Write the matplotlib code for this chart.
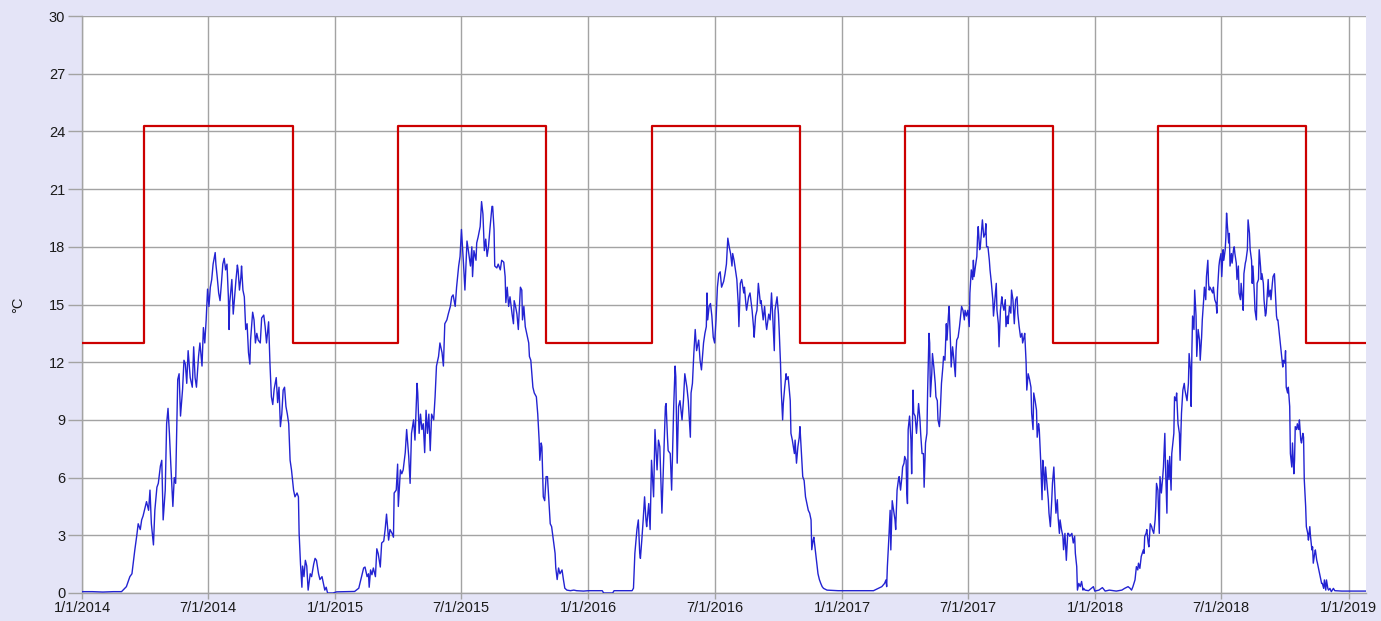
import numpy as np
import matplotlib
matplotlib.use("Agg")
import matplotlib.pyplot as plt

# ---------------- data (day offsets from Jan 1 of each year, values in °C) ----------------
d2014 = [0, 15, 30, 45,
         57, 64, 69, 72, 74, 76, 79, 81, 84, 86,
         88, 93, 96, 98, 100, 103, 105, 108, 110, 113,
         115, 117, 120, 122, 124, 126, 128, 131, 133, 135,
         138, 140, 142, 145, 147, 149, 151, 153, 156, 159,
         161, 163, 165, 168, 170, 173, 175, 177, 179, 181,
         183, 185, 187, 189, 192, 193, 195, 197, 199, 201,
         203, 205, 207, 209, 211, 212, 213, 216, 218, 220,
         222, 224, 225, 227, 229, 230, 232, 234, 236, 238,
         240, 242, 243, 246, 248, 250, 252, 254, 257, 259,
         262, 264, 266, 269, 271, 273, 275, 277, 280, 282,
         284, 286, 288, 290, 292, 294, 296, 298, 300, 302,
         305, 307, 310, 312, 313, 315, 317, 318, 320, 322,
         324, 326, 329, 331, 334, 336, 338, 341, 343, 346,
         348, 350, 352, 354, 362]
v2014 = [0.07, 0.07, 0.05, 0.07,
         0.07, 0.33, 0.85, 1.0, 1.6, 2.2, 3.0, 3.6, 3.3, 3.8,
         4.0, 4.75, 4.3, 5.35, 3.6, 2.5, 4.3, 5.5, 5.7, 6.6,
         6.9, 3.8, 5.35, 8.8, 9.6, 8.3, 6.7, 4.5, 6.0, 5.7,
         11.1, 11.4, 9.2, 10.6, 12.1, 11.9, 10.9, 12.6, 11.2, 10.7,
         12.8, 11.2, 10.7, 12.3, 13.0, 11.8, 13.8, 13.0, 14.2, 15.8,
         14.9, 15.9, 16.3, 17.1, 17.7, 17.1, 16.4, 15.6, 15.2, 16.1,
         17.1, 17.4, 16.8, 17.1, 15.4, 13.7, 15.1, 16.3, 14.5, 15.4,
         16.3, 17.05, 16.8, 15.75, 16.4, 17.0, 15.75, 15.4, 13.7, 14.0,
         12.5, 11.9, 13.15, 14.6, 14.2, 13.0, 13.5, 13.15, 13.0, 14.3,
         14.45, 13.85, 13.0, 14.1, 11.9, 10.2, 9.8, 10.6, 11.2, 9.9,
         10.7, 8.65, 9.3, 10.55, 10.7, 9.7, 9.3, 8.8, 6.9, 6.4,
         5.35, 5.0, 5.2, 5.0, 3.1, 1.5, 0.3, 1.4, 0.85, 1.7,
         1.4, 0.15, 1.0, 0.85, 1.5, 1.8, 1.7, 1.0, 0.7, 0.85,
         0.5, 0.15, 0.3, 0.0, 0.0]

d2015 = [2, 15, 28, 34, 38, 41, 43, 46, 48, 49,
         51, 53, 55, 58, 60, 62, 65, 67, 70, 72,
         74, 77, 79, 82, 84, 85, 88, 90, 91, 94,
         96, 98, 101, 103, 106, 108, 110, 113, 115, 118,
         119, 121, 123, 125, 127, 129, 131, 133, 135, 137,
         139, 142, 144, 146, 149, 151, 154, 156, 158, 161,
         163, 166, 168, 170, 173, 175, 178, 180, 182, 185,
         187, 190, 192, 195, 197, 198, 200, 203, 204, 206,
         209, 211, 213, 215, 217, 219, 221, 223, 226, 227,
         229, 230, 233, 235, 238, 240, 243, 245, 246, 248,
         250, 252, 255, 257, 258, 260, 262, 264, 267, 269,
         270, 272, 274, 276, 279, 280, 282, 285, 287, 290,
         292, 294, 295, 297, 298, 300, 302, 304, 306, 308,
         310, 312, 315, 317, 318, 320, 322, 324, 327, 329,
         331, 334, 339, 344, 348, 358]
v2015 = [0.06, 0.07, 0.08, 0.25, 0.85, 1.3, 1.35, 0.85, 1.0, 0.3,
         1.2, 0.95, 1.3, 0.85, 2.3, 2.05, 1.35, 2.6, 2.7, 3.3,
         4.1, 2.75, 3.3, 3.1, 2.9, 5.2, 5.35, 6.7, 4.5, 6.4,
         6.2, 6.4, 7.3, 8.5, 7.1, 5.7, 8.3, 9.0, 7.95, 10.9,
         10.4, 8.3, 9.3, 8.5, 8.8, 7.3, 9.5, 8.3, 9.3, 7.4,
         9.3, 9.0, 10.2, 11.8, 12.3, 13.0, 12.5, 11.8, 14.0, 14.2,
         14.5, 14.9, 15.4, 15.5, 14.9, 15.9, 17.0, 17.5, 18.9, 17.1,
         15.75, 18.3, 17.8, 17.0, 18.0, 16.45, 17.8, 17.3, 18.2, 18.5,
         19.05, 20.35, 19.7, 17.8, 18.4, 17.5, 18.0, 18.9, 20.1, 20.1,
         18.9, 17.0, 16.9, 17.1, 16.8, 17.3, 17.2, 16.45, 15.1, 15.9,
         14.9, 15.4, 14.5, 14.0, 15.2, 14.9, 14.5, 13.7, 15.9, 15.75,
         14.2, 14.9, 13.85, 13.5, 13.0, 12.3, 12.1, 10.7, 10.4, 10.2,
         9.3, 7.95, 6.9, 7.8, 7.6, 5.0, 4.8, 6.05, 6.05, 4.8,
         3.6, 3.45, 2.6, 2.06, 1.3, 0.7, 1.3, 1.0, 1.2, 0.7,
         0.25, 0.15, 0.12, 0.15, 0.12, 0.1]

d2016 = [0, 10, 20, 22, 35, 37, 50, 63, 65, 67,
         70, 72, 74, 75, 77, 79, 81, 83, 84, 87,
         89, 91, 94, 96, 99, 101, 103, 106, 108, 111,
         112, 114, 115, 118, 120, 123, 125, 126, 128, 130,
         132, 135, 137, 139, 142, 144, 147, 148, 150, 152,
         154, 156, 159, 161, 163, 166, 168, 170, 171, 172,
         174, 176, 178, 180, 182, 184, 186, 188, 190, 192,
         195, 197, 199, 201, 203, 205, 207, 208, 210, 212,
         214, 216, 217, 219, 221, 224, 225, 227, 228, 231,
         233, 236, 238, 239, 241, 243, 245, 248, 249, 251,
         252, 254, 256, 257, 260, 262, 264, 266, 268, 269,
         272, 274, 275, 277, 278, 280, 281, 283, 285, 286,
         288, 291, 292, 294, 297, 298, 300, 302, 304, 305,
         307, 309, 311, 313, 315, 317, 319, 321, 322, 324,
         325, 327, 329, 331, 333, 335, 337, 339, 344, 360]
v2016 = [0.12, 0.12, 0.12, 0.0, 0.0, 0.12, 0.12, 0.12, 0.25, 2.06,
         3.3, 3.8, 2.06, 1.8, 2.75, 3.8, 5.0, 3.8, 3.45, 4.65,
         3.3, 6.9, 5.0, 8.5, 6.4, 7.95, 7.6, 4.15, 6.4, 9.7,
         9.85, 8.1, 7.4, 7.25, 5.35, 9.7, 11.8, 11.25, 6.75, 9.7,
         10.0, 9.0, 10.0, 11.4, 10.7, 10.0, 8.1, 10.4, 10.9, 12.45,
         13.7, 12.6, 13.15, 12.1, 11.6, 13.0, 13.5, 13.85, 15.6, 14.2,
         14.9, 15.05, 14.4, 13.3, 13.0, 14.2, 15.9, 16.6, 16.7, 15.9,
         16.2, 16.6, 17.1, 18.45, 18.0, 17.65, 17.0, 17.65, 17.3, 16.8,
         16.3, 15.05, 13.85, 16.1, 16.3, 15.6, 15.9, 15.05, 14.7, 15.4,
         15.6, 14.7, 13.85, 13.3, 14.4, 14.7, 16.1, 15.05, 15.2, 14.5,
         14.2, 14.9, 14.0, 13.7, 14.5, 14.2, 15.6, 14.2, 12.6, 14.7,
         15.4, 14.5, 13.7, 11.9, 10.55, 9.0, 9.85, 10.7, 11.4, 11.1,
         11.25, 10.0, 8.3, 7.95, 7.25, 7.95, 6.75, 7.6, 8.1, 8.65,
         7.4, 6.05, 5.85, 5.0, 4.65, 4.3, 4.15, 3.8, 2.25, 2.75,
         2.9, 2.25, 1.55, 1.0, 0.7, 0.5, 0.33, 0.24, 0.15, 0.12]

d2017 = [0, 15, 30, 45, 52, 57, 61, 63, 64, 65,
         67, 69, 70, 72, 74, 76, 77, 79, 81, 82,
         84, 86, 87, 89, 90, 92, 93, 94, 95, 97,
         99, 100, 102, 103, 105, 107, 110, 112, 113, 115,
         117, 118, 120, 122, 123, 125, 126, 127, 129, 130,
         132, 134, 135, 137, 138, 140, 141, 143, 145, 146,
         148, 150, 151, 153, 154, 156, 157, 159, 161, 163,
         164, 165, 167, 169, 171, 172, 174, 176, 177, 179,
         181, 183, 184, 186, 188, 189, 190, 192, 194, 195,
         196, 198, 199, 201, 202, 204, 206, 207, 208, 210,
         212, 213, 215, 217, 218, 220, 222, 223, 225, 226,
         228, 230, 231, 233, 235, 236, 238, 239, 241, 243,
         244, 246, 248, 249, 250, 252, 253, 255, 257, 259,
         260, 262, 263, 265, 266, 268, 270, 272, 273, 275,
         276, 278, 280, 281, 283, 284, 286, 288, 289, 290,
         292, 293, 295, 297, 298, 300, 302, 303, 305, 307,
         308, 310, 311, 313, 314, 316, 318, 319, 321, 323,
         325, 326, 328, 331, 333, 335, 336, 338, 339, 341,
         343, 345, 347, 348, 350, 355, 362, 364]
v2017 = [0.12, 0.12, 0.12, 0.12, 0.24, 0.33, 0.5, 0.68, 0.33, 1.37,
         2.75, 4.3, 2.24, 4.8, 4.3, 3.8, 3.3, 5.35, 5.9, 6.05,
         5.35, 6.05, 6.55, 6.75, 7.1, 6.9, 5.2, 4.65, 8.5, 9.2,
         7.95, 6.2, 10.55, 9.35, 9.2, 8.3, 9.85, 9.0, 8.3, 7.25,
         7.25, 5.5, 7.8, 8.3, 10.4, 13.5, 13.0, 10.2, 11.4, 12.45,
         11.75, 10.9, 10.2, 10.0, 9.0, 8.65, 9.2, 10.9, 11.75, 12.3,
         12.1, 14.0, 13.15, 14.4, 14.9, 13.0, 11.75, 12.8, 12.1, 11.25,
         12.6, 13.15, 13.3, 13.85, 14.55, 14.9, 14.7, 14.2, 14.7, 14.4,
         14.7, 13.85, 15.6, 16.8, 16.3, 17.3, 16.45, 17.0, 17.5, 18.5,
         19.05, 17.85, 18.0, 18.9, 19.4, 18.5, 18.7, 19.2, 18.0, 18.0,
         17.3, 16.8, 16.1, 15.25, 14.4, 15.25, 16.1, 14.7, 14.0, 12.8,
         14.7, 15.4, 15.05, 14.7, 15.25, 13.85, 14.4, 14.0, 14.9, 14.55,
         15.75, 15.25, 14.0, 14.7, 15.25, 15.4, 14.55, 13.85, 13.3, 13.5,
         13.0, 13.3, 13.5, 12.0, 10.55, 11.4, 11.1, 10.7, 9.35, 8.5,
         10.4, 10.0, 9.5, 8.1, 8.8, 8.5, 6.9, 4.85, 6.9, 6.55,
         5.35, 6.55, 5.7, 4.85, 4.15, 3.45, 4.85, 5.7, 6.55, 4.85,
         4.15, 4.85, 4.0, 3.1, 3.8, 3.3, 2.95, 2.25, 3.1, 1.7,
         3.1, 3.1, 2.95, 3.1, 2.6, 2.95, 2.06, 1.37, 0.15, 0.5,
         0.33, 0.6, 0.15, 0.24, 0.15, 0.12, 0.33, 0.1]

d2018 = [5, 10, 14, 20, 30, 38, 42, 47, 50, 52,
         54, 57, 59, 61, 62, 64, 66, 69, 70, 71,
         73, 74, 76, 77, 79, 81, 82, 84, 86, 87,
         88, 90, 92, 93, 95, 97, 98, 100, 101, 103,
         104, 106, 107, 109, 110, 112, 113, 114, 116, 117,
         119, 121, 122, 124, 125, 126, 128, 129, 131, 132,
         134, 135, 137, 138, 139, 140, 142, 143, 145, 146,
         148, 150, 151, 153, 154, 156, 157, 159, 160, 162,
         163, 164, 165, 167, 169, 170, 172, 174, 175, 176,
         178, 179, 181, 182, 184, 185, 187, 188, 189, 190,
         192, 193, 194, 196, 197, 199, 200, 201, 203, 204,
         206, 207, 209, 210, 212, 213, 214, 216, 217, 219,
         220, 222, 223, 225, 226, 227, 229, 230, 232, 233,
         235, 236, 238, 239, 240, 242, 243, 245, 246, 248,
         249, 250, 252, 253, 255, 256, 258, 259, 261, 262,
         263, 266, 268, 270, 271, 273, 274, 275, 277, 278,
         280, 281, 283, 284, 286, 287, 288, 290, 291, 293,
         294, 296, 297, 299, 300, 301, 303, 304, 306, 307,
         309, 310, 312, 313, 314, 316, 317, 319, 320, 322,
         323, 325, 326, 327, 329, 330, 332, 333, 335, 336,
         338, 340, 343, 345, 355, 365, 380, 390]
v2018 = [0.15, 0.28, 0.1, 0.15, 0.1, 0.15, 0.24, 0.33, 0.24, 0.15,
         0.33, 0.68, 1.37, 1.2, 1.55, 1.28, 1.9, 2.24, 2.06, 2.95,
         3.1, 3.3, 2.6, 2.4, 3.6, 3.45, 3.3, 3.1, 3.8, 4.5,
         5.7, 5.35, 3.1, 6.05, 5.2, 6.05, 6.55, 8.3, 6.55, 4.15,
         6.9, 5.9, 7.1, 5.35, 7.25, 7.95, 8.3, 10.2, 10.0, 10.4,
         8.8, 8.3, 6.9, 9.35, 10.0, 10.55, 10.9, 10.55, 10.2, 10.0,
         10.9, 12.45, 11.6, 9.7, 12.6, 14.4, 13.7, 15.75, 14.4, 12.3,
         13.7, 13.15, 12.1, 13.3, 14.2, 15.25, 15.9, 15.25, 16.45, 17.3,
         16.1, 15.75, 15.9, 15.75, 15.6, 15.9, 15.25, 15.05, 14.55, 15.75,
         17.0, 17.3, 17.65, 16.45, 17.85, 17.3, 17.85, 18.5, 19.75, 19.2,
         18.2, 18.7, 17.0, 17.65, 17.15, 17.85, 18.0, 17.65, 17.15, 16.3,
         17.0, 15.6, 15.25, 16.1, 15.25, 14.7, 16.6, 17.15, 17.3, 17.85,
         19.4, 18.7, 17.85, 17.3, 16.1, 17.0, 15.6, 14.7, 14.2, 16.1,
         16.3, 17.85, 16.95, 16.3, 16.6, 16.1, 15.25, 14.4, 14.55, 15.75,
         16.3, 15.4, 15.75, 15.25, 16.1, 16.45, 16.6, 15.9, 14.4, 14.2,
         14.2, 13.15, 12.45, 11.75, 12.1, 11.95, 12.6, 10.7, 10.4, 10.7,
         9.7, 7.25, 6.55, 7.8, 6.2, 6.9, 8.65, 8.5, 8.8, 8.5,
         9.0, 7.95, 7.8, 8.3, 8.1, 5.9, 4.5, 3.45, 3.1, 2.75,
         3.45, 2.95, 2.24, 2.4, 1.55, 2.06, 2.24, 1.7, 1.55, 1.2,
         1.0, 0.68, 0.5, 0.5, 0.24, 0.68, 0.15, 0.68, 0.24, 0.15,
         0.24, 0.07, 0.24, 0.12, 0.1, 0.1, 0.1, 0.1]

years = ["2014", "2015", "2016", "2017", "2018"]
day_lists = [d2014, d2015, d2016, d2017, d2018]
val_lists = [v2014, v2015, v2016, v2017, v2018]

# setpoint (red step line): change dates and values
red_dates = ["2014-01-01", "2014-04-01", "2014-11-01", "2015-04-01", "2015-11-01",
             "2016-04-01", "2016-11-01", "2017-04-01", "2017-11-01", "2018-04-01",
             "2018-11-01", "2019-01-27"]
red_vals = [13.0, 24.3, 13.0, 24.3, 13.0, 24.3, 13.0, 24.3, 13.0, 24.3, 13.0, 13.0]

tick_dates = ["2014-01-01", "2014-07-01", "2015-01-01", "2015-07-01", "2016-01-01",
              "2016-07-01", "2017-01-01", "2017-07-01", "2018-01-01", "2018-07-01",
              "2019-01-01"]
tick_labels = ["1/1/2014", "7/1/2014", "1/1/2015", "7/1/2015", "1/1/2016",
               "7/1/2016", "1/1/2017", "7/1/2017", "1/1/2018", "7/1/2018",
               "1/1/2019"]
y_ticks = [0, 3, 6, 9, 12, 15, 18, 21, 24, 27, 30]

# ---------------- build series ----------------
blue_x, blue_y = [], []
for yr, dl, vl in zip(years, day_lists, val_lists):
    assert len(dl) == len(vl), (yr, len(dl), len(vl))
    base = np.datetime64(yr + "-01-01")
    blue_x.append(base + np.array(dl, dtype="timedelta64[D]"))
    blue_y.append(np.array(vl, dtype=float))
blue_x = np.concatenate(blue_x)
blue_y = np.concatenate(blue_y)

red_x = np.array(red_dates, dtype="datetime64[D]")
tick_x = np.array(tick_dates, dtype="datetime64[D]")

# ---------------- figure ----------------
plt.rcParams["font.family"] = ["Liberation Sans", "DejaVu Sans"]
W, H = 1381, 621
fig = plt.figure(figsize=(W / 100, H / 100), dpi=100, facecolor="#E4E4F7")
ax = fig.add_axes([82 / W, (H - 593) / H, (1366 - 82) / W, (593 - 16) / H])
ax.set_facecolor("white")

grid_c = "#A3A3A3"
ax.set_axisbelow(True)
ax.grid(True, color=grid_c, linewidth=1.0)

ax.plot(blue_x, blue_y, color="#2323D2", linewidth=1.0, zorder=3)
ax.plot(red_x, red_vals, drawstyle="steps-post", color="#CC0000", linewidth=1.6, zorder=4)

ax.set_xlim(np.datetime64("2014-01-01"), np.datetime64("2019-01-26"))
ax.set_ylim(0, 30)
ax.set_yticks(y_ticks)
ax.set_yticklabels([str(t) for t in y_ticks])
ax.set_xticks(tick_x)
ax.set_xticklabels(tick_labels)

for s in ["top", "right"]:
    ax.spines[s].set_visible(False)
for s in ["left", "bottom"]:
    ax.spines[s].set_color(grid_c)
    ax.spines[s].set_linewidth(1.0)

ax.tick_params(axis="y", length=10, width=1.0, color=grid_c, pad=2,
               labelsize=10.5, labelcolor="#1A1A1A")
ax.tick_params(axis="x", length=4, width=1.0, color=grid_c, pad=2,
               labelsize=10.5, labelcolor="#1A1A1A")

fig.text(18 / W, 1 - 305 / H, "°C", rotation=90, ha="center", va="center",
         fontsize=10.5, color="#1A1A1A")

fig.savefig("out.png", dpi=100, facecolor=fig.get_facecolor())
